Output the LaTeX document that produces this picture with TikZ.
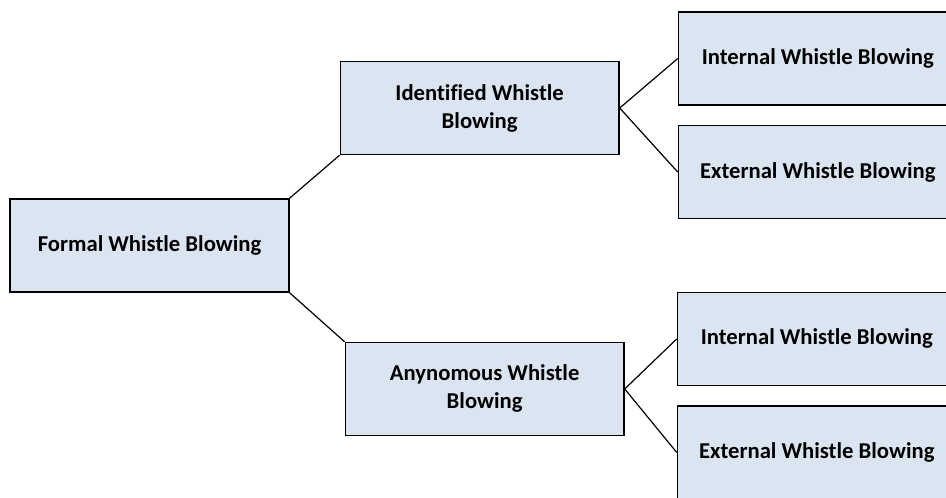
\documentclass[tikz,border=0pt]{standalone}
\usepackage{fontspec}
\setmainfont[Ligatures=NoCommon]{Carlito}
\usetikzlibrary{positioning}
\definecolor{boxblue}{RGB}{219,229,241}
\tikzset{%
	topic/.style={draw, rectangle, fill=boxblue, line width=1.1pt, align=center,%
		minimum width=209pt, minimum height=69.75pt, inner sep=0pt,%
		font=\fontsize{17}{21}\selectfont\bfseries},
	connector/.style={line width=0.9pt}
}

\begin{document}
\begin{tikzpicture}
	\clip (-112.125pt,184.125pt) rectangle (597.375pt,-189.375pt);
	\node[topic]                                         (formal) {Formal Whistle Blowing};
	\node[topic, above right=32.25pt and 37.5pt of formal] (ident)  {Identified Whistle\\Blowing};
	\node[topic, below right=36.75pt and 41.25pt of formal] (anon) {Anynomous Whistle\\Blowing};
	\node[topic, right=43.5pt of ident.east, yshift=37.1pt]  (intA) {Internal Whistle Blowing};
	\node[topic, below=14.25pt of intA]                      (extA) {External Whistle Blowing};
	\node[topic, right=39pt of anon.east, yshift=37.5pt]     (intB) {Internal Whistle Blowing};
	\node[topic, below=14.25pt of intB]                      (extB) {External Whistle Blowing};
	\draw[connector] (formal.north east) -- (ident.south west);
	\draw[connector] (formal.south east) -- (anon.north west);
	\draw[connector] (ident.east) -- (intA.west);
	\draw[connector] (ident.east) -- (extA.west);
	\draw[connector] (anon.east) -- (intB.west);
	\draw[connector] (anon.east) -- (extB.west);
\end{tikzpicture}
\end{document}
